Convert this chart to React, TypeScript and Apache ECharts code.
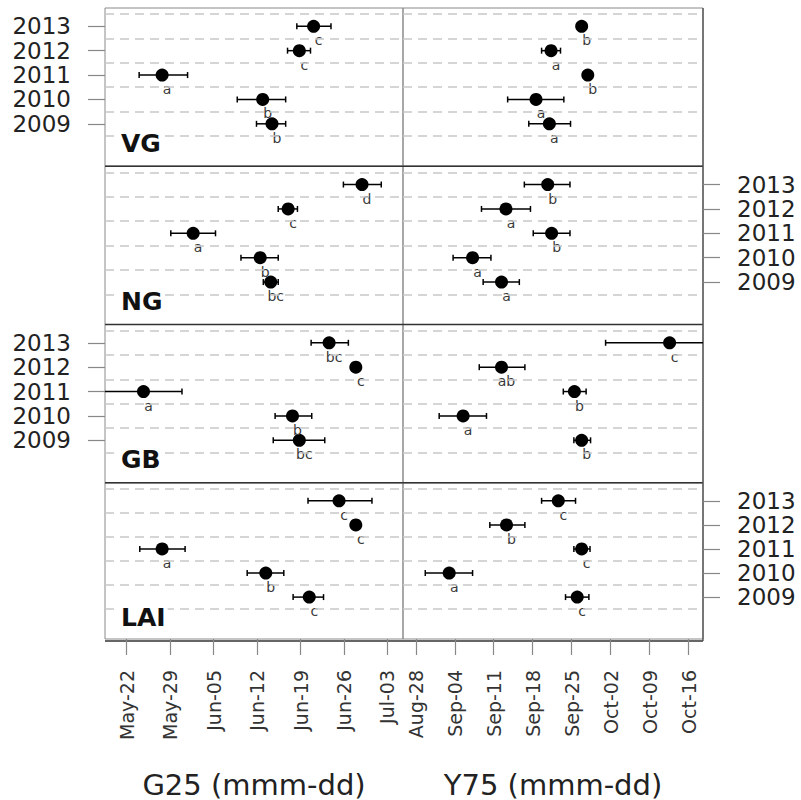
import React, { useEffect, useRef } from "react";
import * as echarts from "echarts";

const FONT = "DejaVu Sans";

// Years shown on each panel (y axis) and the dashed separators between them
const years = [2009, 2010, 2011, 2012, 2013];
const gridYears = [2008.5, 2009.5, 2010.5, 2011.5, 2012.5, 2013.5];
const panelNames = ["VG", "NG", "GB", "LAI"];
const axisTitles = ["G25 (mmm-dd)", "Y75 (mmm-dd)"];

// Tick labels of the two date axes
const g25TickLabels = ["May-22", "May-29", "Jun-05", "Jun-12", "Jun-19", "Jun-26", "Jul-03"];
const y75TickLabels = ["Aug-28", "Sep-04", "Sep-11", "Sep-18", "Sep-25", "Oct-02", "Oct-09", "Oct-16"];

// Values are day of year (non-leap year), order 2009..2013
// G25
const g25VGMean = [165.4, 163.9, 147.7, 169.8, 172.1];
const g25VGLow = [162.9, 159.8, 144.0, 167.9, 169.4];
const g25VGHigh = [167.6, 167.6, 151.8, 171.6, 174.9];
const g25VGLetters = ["b", "b", "a", "c", "c"];

const g25NGMean = [165.2, 163.5, 152.7, 168.0, 179.9];
const g25NGLow = [164.0, 160.4, 149.1, 166.4, 176.9];
const g25NGHigh = [166.4, 166.4, 156.3, 169.5, 183.0];
const g25NGLetters = ["bc", "b", "a", "c", "d"];

const g25GBMean = [169.8, 168.7, 144.7, 178.9, 174.6];
const g25GBLow = [165.6, 165.9, 138.2, 178.6, 171.7];
const g25GBHigh = [173.9, 171.8, 150.9, 179.2, 177.7];
const g25GBLetters = ["bc", "b", "a", "c", "bc"];

const g25LAIMean = [171.4, 164.4, 147.7, 178.9, 176.2];
const g25LAILow = [168.8, 161.4, 144.1, 178.6, 171.2];
const g25LAIHigh = [173.7, 167.3, 151.4, 179.2, 181.5];
const g25LAILetters = ["c", "b", "a", "c", "c"];

// Y75
const y75VGMean = [264.0, 261.6, 270.9, 264.3, 269.8];
const y75VGLow = [260.3, 256.5, 270.6, 262.6, 269.5];
const y75VGHigh = [267.8, 266.6, 271.2, 266.0, 270.1];
const y75VGLetters = ["a", "a", "b", "a", "b"];

const y75NGMean = [255.4, 250.2, 264.4, 256.2, 263.7];
const y75NGLow = [252.1, 246.7, 261.1, 251.8, 259.5];
const y75NGHigh = [258.6, 253.5, 267.7, 260.6, 267.7];
const y75NGLetters = ["a", "a", "b", "a", "b"];

const y75GBMean = [269.8, 248.5, 268.5, 255.4, 285.6];
const y75GBLow = [268.4, 244.2, 266.5, 251.4, 274.1];
const y75GBHigh = [271.4, 252.7, 270.6, 259.6, 297.0];
const y75GBLetters = ["b", "a", "b", "ab", "c"];

const y75LAIMean = [269.0, 246.0, 269.8, 256.3, 265.6];
const y75LAILow = [266.9, 241.7, 268.4, 253.3, 262.6];
const y75LAIHigh = [271.1, 250.2, 271.3, 259.6, 268.7];
const y75LAILetters = ["c", "a", "c", "b", "c"];

const monthStart: Record<string, number> = {
  Jan: 0, Feb: 31, Mar: 59, Apr: 90, May: 120, Jun: 151,
  Jul: 181, Aug: 212, Sep: 243, Oct: 273, Nov: 304, Dec: 334,
};
const toDoy = (s: string) => {
  const [m, d] = s.split("-");
  return monthStart[m] + Number(d);
};

const tables = [
  [
    [g25VGMean, g25VGLow, g25VGHigh, g25VGLetters],
    [y75VGMean, y75VGLow, y75VGHigh, y75VGLetters],
  ],
  [
    [g25NGMean, g25NGLow, g25NGHigh, g25NGLetters],
    [y75NGMean, y75NGLow, y75NGHigh, y75NGLetters],
  ],
  [
    [g25GBMean, g25GBLow, g25GBHigh, g25GBLetters],
    [y75GBMean, y75GBLow, y75GBHigh, y75GBLetters],
  ],
  [
    [g25LAIMean, g25LAILow, g25LAIHigh, g25LAILetters],
    [y75LAIMean, y75LAILow, y75LAIHigh, y75LAILetters],
  ],
] as any[];

export default function App() {
  const ref = useRef<HTMLDivElement>(null);
  useEffect(() => {
    if (!ref.current) return;
    const chart = echarts.init(ref.current, undefined, { renderer: "svg" });

    const tickLabels = [g25TickLabels, y75TickLabels];
    const tickVals = tickLabels.map((arr) => arr.map(toDoy));
    const tickMaps = tickLabels.map((arr) => {
      const m: Record<number, string> = {};
      arr.forEach((l) => (m[toDoy(l)] = l));
      return m;
    });
    const ranges = [
      [138.5, 186.5],
      [237.7, 291.6],
    ];
    const PH = 158.25;
    const TOP = 8;
    const colLeft = [105, 403];
    const colWidth = [298, 300];

    const grid: any[] = [];
    const xAxis: any[] = [];
    const yAxis: any[] = [];
    const series: any[] = [];
    const graphic: any[] = [];

    for (let i = 0; i < 4; i++) {
      for (let j = 0; j < 2; j++) {
        const idx = i * 2 + j;
        const bottom = i === 3;
        grid.push({
          left: colLeft[j],
          top: TOP + i * PH,
          width: colWidth[j],
          height: PH,
          show: true,
          borderColor: "#8a8a8a",
          borderWidth: 1,
          backgroundColor: "transparent",
        });
        xAxis.push({
          type: "value",
          gridIndex: idx,
          min: ranges[j][0],
          max: ranges[j][1],
          axisLine: { show: false },
          splitLine: { show: false },
          axisTick: {
            show: bottom,
            customValues: tickVals[j],
            length: 16,
            lineStyle: { color: "#888", width: 1.2 },
          },
          axisLabel: {
            show: bottom,
            customValues: tickVals[j],
            rotate: 90,
            margin: 31,
            fontSize: 19,
            fontFamily: FONT,
            color: "#333",
            formatter: (v: number) => tickMaps[j][Math.round(v)] || "",
          },
          name: bottom ? axisTitles[j] : "",
          nameLocation: "middle",
          nameGap: 131,
          nameTextStyle: { fontSize: 29, fontFamily: FONT, color: "#222" },
        });
        const labelCol = i % 2 === 0 ? 0 : 1;
        const showY = j === labelCol;
        yAxis.push({
          type: "value",
          gridIndex: idx,
          min: 2007.26,
          max: 2013.75,
          position: j === 0 ? "left" : "right",
          axisLine: { show: false },
          splitLine: { show: false },
          axisTick: {
            show: showY,
            customValues: years,
            length: 17,
            lineStyle: { color: "#888", width: 1.2 },
          },
          axisLabel: {
            show: showY,
            customValues: years,
            margin: 34,
            fontSize: 23,
            lineHeight: 20,
            fontFamily: FONT,
            color: "#222",
            formatter: (v: number) => String(Math.round(v)),
          },
        });

        const [mean, low, high, letters] = tables[i][j];
        series.push({
          type: "custom",
          xAxisIndex: idx,
          yAxisIndex: idx,
          z: 2,
          data: years.map((y, k) => [low[k], high[k], y]),
          renderItem: (params: any, api: any) => {
            const cs = params.coordSys;
            const a = api.coord([api.value(0), api.value(2)]);
            const b = api.coord([api.value(1), api.value(2)]);
            const x1 = Math.max(a[0], cs.x);
            const x2 = Math.min(b[0], cs.x + cs.width);
            const y = a[1];
            const st = { stroke: "#000", lineWidth: 1.5 };
            const children: any[] = [
              { type: "line", shape: { x1, y1: y, x2, y2: y }, style: st },
            ];
            if (a[0] >= cs.x)
              children.push({ type: "line", shape: { x1: a[0], y1: y - 3, x2: a[0], y2: y + 3 }, style: st });
            if (b[0] <= cs.x + cs.width)
              children.push({ type: "line", shape: { x1: b[0], y1: y - 3, x2: b[0], y2: y + 3 }, style: st });
            return { type: "group", children };
          },
        });
        series.push({
          type: "scatter",
          xAxisIndex: idx,
          yAxisIndex: idx,
          z: 3,
          symbol: "circle",
          symbolSize: 13,
          itemStyle: { color: "#000", opacity: 1 },
          data: years.map((y, k) => ({ name: letters[k], value: [mean[k], y] })),
          label: {
            show: true,
            position: "inside",
            offset: [5, 14],
            formatter: "{b}",
            fontSize: 14,
            fontFamily: FONT,
            color: "#3a3a3a",
            textBorderWidth: 0,
            textBorderColor: "transparent",
          },
          emphasis: { disabled: true },
          markLine: {
            silent: true,
            symbol: ["none", "none"],
            label: { show: false },
            lineStyle: { color: "#c8c8c8", width: 1.5, type: [9, 6] },
            data: gridYears.map((g) => ({ yAxis: g })),
          },
        });
      }
      graphic.push({
        type: "text",
        x: 119,
        y: 143 + i * PH,
        z: 10,
        style: {
          text: panelNames[i],
          fontSize: 25,
          fontWeight: "bold",
          fontFamily: FONT,
          fill: "#111",
          verticalAlign: "middle",
          backgroundColor: "#fff",
          padding: [0, 2],
        },
      });
    }
    for (let k = 1; k <= 4; k++) {
      graphic.push({
        type: "line",
        shape: { x1: 105, y1: TOP + k * PH, x2: 703, y2: TOP + k * PH },
        style: { stroke: "#333", lineWidth: 1.6 },
      });
    }
    graphic.push({
      type: "line",
      shape: { x1: 703, y1: TOP, x2: 703, y2: TOP + 4 * PH },
      style: { stroke: "#555", lineWidth: 1.4 },
    });

    chart.setOption({
      animation: false,
      backgroundColor: "#fff",
      grid,
      xAxis,
      yAxis,
      series,
      graphic,
    });
    return () => chart.dispose();
  }, []);
  return (
    <div
      ref={ref}
      style={{ position: "fixed", left: 0, top: 0, width: 801, height: 800 }}
    />
  );
}
